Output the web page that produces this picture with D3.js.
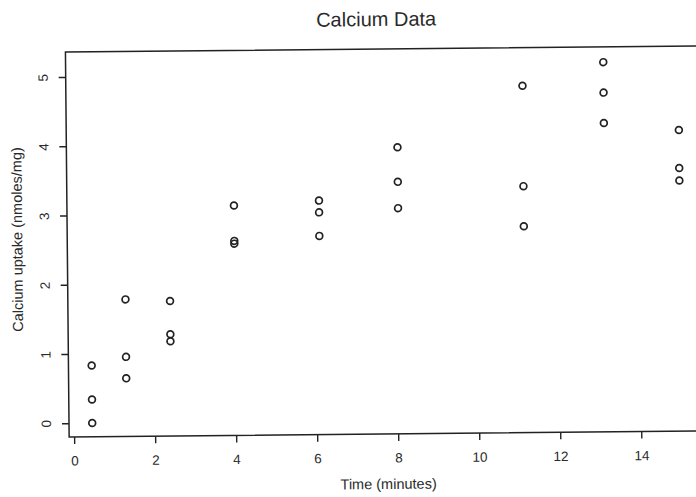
<!DOCTYPE html>
<html>
<head>
<meta charset="utf-8">
<script src="https://cdn.jsdelivr.net/npm/d3@7/dist/d3.min.js"></script>
<style>
  html, body { margin: 0; padding: 0; background: #fff; }
  svg { display: block; }
  text { font-family: "Liberation Sans", Arial, Helvetica, sans-serif; fill: #2a2a2a; }
</style>
</head>
<body>
<svg id="chart" width="696" height="497"></svg>
<script>
// calcium uptake, three replicates per time
var times = [0.45, 1.30, 2.40, 4.00, 6.10, 8.05, 11.15, 13.15, 15.00];
var rep1 = [0.34, 1.78, 1.75, 3.12, 3.18, 3.06, 4.81, 5.14, 3.60];
var rep2 = [0.00, 0.95, 1.27, 2.61, 3.01, 3.94, 3.36, 4.70, 4.15];
var rep3 = [0.83, 0.64, 1.17, 2.57, 2.67, 3.44, 2.78, 4.26, 3.42];
var xTicks = [0, 2, 4, 6, 8, 10, 12, 14];
var yTicks = [0, 1, 2, 3, 4, 5];

var points = [];
times.forEach(function (t, i) {
	[rep1, rep2, rep3].forEach(function (rep) {
		points.push({ t: t, v: rep[i] });
	});
});

var svg = d3.select("#chart");

// the scan is tilted a little, turn the whole plot with it
var g = svg.append("g")
	.attr("transform", "rotate(-0.55, 74, 423)");

var x = d3.scaleLinear().domain([-0.123, 15.7]).range([69, 710]);
var y = d3.scaleLinear().domain([-0.2, 5.36]).range([437, 52]);

var ink = "#222";

// frame
g.append("rect")
	.attr("x", x(-0.123))
	.attr("y", y(5.36))
	.attr("width", x(15.7) - x(-0.123))
	.attr("height", y(-0.2) - y(5.36))
	.style("fill", "none")
	.style("stroke", ink)
	.style("stroke-width", 1.5);

var xAxis = g.append("g")
	.attr("transform", "translate(0," + y(-0.2) + ")")
	.call(d3.axisBottom(x).tickValues(xTicks).tickFormat(d3.format("d"))
		.tickSize(7).tickSizeOuter(0).tickPadding(12));
xAxis.select(".domain").remove();

var yAxis = g.append("g")
	.attr("transform", "translate(" + x(-0.123) + ",0)")
	.call(d3.axisLeft(y).tickValues(yTicks).tickFormat(d3.format("d"))
		.tickSize(7).tickSizeOuter(0).tickPadding(0));
yAxis.select(".domain").remove();

g.selectAll(".tick line")
	.style("stroke", ink)
	.style("stroke-width", 1.4);

xAxis.selectAll("text")
	.style("font-size", "13.5px")
	.style("fill", "#2a2a2a");

yAxis.selectAll("text")
	.attr("x", null)
	.attr("dy", null)
	.attr("transform", "translate(-18,0) rotate(-90)")
	.style("text-anchor", "middle")
	.style("font-size", "13.5px")
	.style("fill", "#2a2a2a");

// points
g.selectAll("circle.pt")
	.data(points)
	.enter()
	.append("circle")
	.attr("class", "pt")
	.attr("cx", function (d) { return x(d.t); })
	.attr("cy", function (d) { return y(d.v); })
	.attr("r", 3.4)
	.style("fill", "none")
	.style("stroke", ink)
	.style("stroke-width", 1.7);

// titles
g.append("text")
	.attr("x", 380)
	.attr("y", 29)
	.attr("text-anchor", "middle")
	.style("font-size", "20px")
	.text("Calcium Data");

g.append("text")
	.attr("x", 388)
	.attr("y", 492)
	.attr("text-anchor", "middle")
	.style("font-size", "14.5px")
	.text("Time (minutes)");

g.append("text")
	.attr("transform", "translate(24,239) rotate(-90)")
	.attr("text-anchor", "middle")
	.style("font-size", "14.5px")
	.text("Calcium uptake (nmoles/mg)");
</script>
</body>
</html>
